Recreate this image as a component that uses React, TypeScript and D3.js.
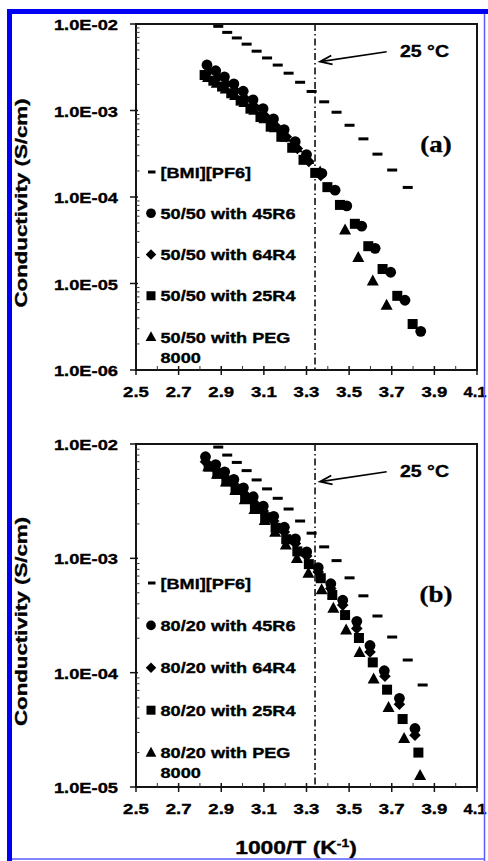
import React from "react";
import * as d3 from "d3";

type Pt = [number, number]; // [1000/T (1/K), conductivity (S/cm)]

// axis ticks
const xTicks = [2.5, 2.7, 2.9, 3.1, 3.3, 3.5, 3.7, 3.9, 4.1];
const xMinor = [2.6, 2.8, 3.0, 3.2, 3.4, 3.6, 3.8, 4.0];
const yTicksA = [1e-2, 1e-3, 1e-4, 1e-5, 1e-6];
const yTicksB = [1e-2, 1e-3, 1e-4, 1e-5];
const roomTemp = 3.34; // 25 °C marker line

// neat ionic liquid, shared by both panels (top panel shows the first 17)
const bmiPF6: Pt[] = [
  [2.886, 9.4e-3], [2.928, 8.0e-3], [2.973, 6.9e-3], [3.019, 5.85e-3], [3.066, 4.85e-3],
  [3.115, 4.05e-3], [3.165, 3.35e-3], [3.216, 2.7e-3], [3.27, 2.12e-3], [3.324, 1.66e-3],
  [3.383, 1.26e-3], [3.441, 9.55e-4], [3.502, 6.75e-4], [3.567, 4.7e-4], [3.633, 3.13e-4],
  [3.702, 2.05e-4], [3.775, 1.29e-4], [3.845, 7.8e-5],
];

// (a) 50/50 blends
const a45R6: Pt[] = [
  [2.833, 3.36e-3], [2.874, 2.88e-3], [2.915, 2.45e-3], [2.959, 2.03e-3], [3.003, 1.67e-3],
  [3.049, 1.33e-3], [3.096, 1.05e-3], [3.145, 8.0e-4], [3.195, 6.0e-4], [3.247, 4.36e-4],
  [3.3, 3.09e-4], [3.372, 1.88e-4], [3.434, 1.2e-4], [3.489, 7.9e-5], [3.559, 4.6e-5],
  [3.622, 2.55e-5], [3.695, 1.35e-5], [3.762, 6.4e-6], [3.836, 2.8e-6],
];
const a64R4: Pt[] = [
  [2.841, 2.82e-3], [2.882, 2.4e-3], [2.924, 2.03e-3], [2.967, 1.69e-3], [3.012, 1.37e-3],
  [3.058, 1.1e-3], [3.106, 8.6e-4], [3.155, 6.6e-4], [3.205, 4.97e-4], [3.257, 3.63e-4],
  [3.311, 2.57e-4], [3.367, 1.77e-4],
];
const a25R4: Pt[] = [
  [2.822, 2.57e-3], [2.863, 2.21e-3], [2.904, 1.89e-3], [2.947, 1.58e-3], [2.991, 1.3e-3],
  [3.037, 1.05e-3], [3.084, 8.4e-4], [3.132, 6.5e-4], [3.182, 4.97e-4], [3.233, 3.71e-4],
  [3.286, 2.69e-4], [3.341, 1.9e-4], [3.398, 1.3e-4], [3.457, 8.1e-5], [3.527, 4.9e-5],
  [3.59, 2.7e-5], [3.657, 1.47e-5], [3.726, 7.2e-6], [3.798, 3.4e-6],
];
const aPEG: Pt[] = [
  [2.838, 2.4e-3], [2.879, 2.07e-3], [2.921, 1.77e-3], [2.965, 1.49e-3], [3.009, 1.24e-3],
  [3.055, 1.01e-3], [3.103, 8.05e-4], [3.152, 6.3e-4], [3.202, 4.9e-4], [3.254, 3.7e-4],
  [3.308, 2.72e-4], [3.364, 1.95e-4], [3.481, 4.15e-5], [3.543, 2.0e-5], [3.611, 1.07e-5],
  [3.676, 5.6e-6],
];

// (b) 80/20 blends
const b45R6: Pt[] = [
  [2.826, 7.74e-3], [2.874, 6.61e-3], [2.916, 5.71e-3], [2.959, 4.9e-3], [3.004, 4.14e-3],
  [3.05, 3.46e-3], [3.097, 2.86e-3], [3.146, 2.33e-3], [3.196, 1.87e-3], [3.248, 1.48e-3],
  [3.301, 1.14e-3], [3.355, 8.3e-4], [3.414, 6.0e-4], [3.47, 4.3e-4], [3.536, 2.81e-4],
  [3.598, 1.73e-4], [3.665, 1.04e-4], [3.736, 5.96e-5], [3.809, 3.25e-5],
];
const b64R4: Pt[] = [
  [2.826, 7.0e-3], [2.874, 6.0e-3], [2.916, 5.2e-3], [2.959, 4.45e-3], [3.004, 3.75e-3],
  [3.05, 3.13e-3], [3.097, 2.6e-3], [3.146, 2.12e-3], [3.196, 1.7e-3], [3.248, 1.35e-3],
  [3.301, 1.05e-3], [3.355, 7.6e-4], [3.414, 5.45e-4], [3.47, 3.9e-4], [3.536, 2.44e-4],
  [3.598, 1.52e-4], [3.668, 9.3e-5], [3.736, 5.3e-5], [3.809, 2.84e-5],
];
const b25R4: Pt[] = [
  [2.841, 6.34e-3], [2.882, 5.5e-3], [2.924, 4.72e-3], [2.967, 4.02e-3], [3.012, 3.37e-3],
  [3.058, 2.8e-3], [3.106, 2.29e-3], [3.155, 1.85e-3], [3.205, 1.47e-3], [3.257, 1.15e-3],
  [3.311, 8.9e-4], [3.367, 6.7e-4], [3.421, 4.78e-4], [3.481, 3.19e-4], [3.546, 2.01e-4],
  [3.611, 1.23e-4], [3.678, 7.1e-5], [3.751, 3.93e-5], [3.825, 2.0e-5],
];
const bPEG: Pt[] = [
  [2.839, 6.31e-3], [2.88, 5.45e-3], [2.922, 4.66e-3], [2.966, 3.92e-3], [3.01, 3.26e-3],
  [3.056, 2.67e-3], [3.104, 2.14e-3], [3.153, 1.69e-3], [3.203, 1.31e-3], [3.255, 9.97e-4],
  [3.309, 7.4e-4], [3.371, 5.3e-4], [3.426, 3.66e-4], [3.486, 2.36e-4], [3.549, 1.5e-4],
  [3.615, 8.8e-5], [3.685, 4.95e-5], [3.758, 2.65e-5], [3.833, 1.26e-5],
];

const shapes = ["dash", "circle", "diamond", "square", "triangle"];
const legendA = ["[BMI][PF6]", "50/50 with 45R6", "50/50 with 64R4", "50/50 with 25R4", "50/50 with PEG"];
const legendB = ["[BMI][PF6]", "80/20 with 45R6", "80/20 with 64R4", "80/20 with 25R4", "80/20 with PEG"];

const SANS = "'Liberation Sans', Arial, sans-serif";
const SERIF = "'Liberation Serif', 'Times New Roman', serif";

const x = d3.scaleLinear().domain([2.5, 4.1]).range([136, 477]);

// 1e-3 -> "1.0E-03"
const fmtSci = (v: number) => {
  const [m, e] = v.toExponential(1).split("e");
  return `${m}E${e[0]}${e.slice(1).padStart(2, "0")}`;
};

function Marker({ shape, cx, cy, s = 1 }: { shape: string; cx: number; cy: number; s?: number }) {
  if (shape === "dash") return <rect x={cx - 5 * s} y={cy - 1.5} width={10 * s} height={3} />;
  if (shape === "circle") return <circle cx={cx} cy={cy} r={5.4 * s} />;
  if (shape === "square") return <rect x={cx - 5 * s} y={cy - 5 * s} width={10 * s} height={10 * s} />;
  if (shape === "diamond")
    return <path d={`M${cx},${cy - 5.8 * s}L${cx + 5.8 * s},${cy}L${cx},${cy + 5.8 * s}L${cx - 5.8 * s},${cy}Z`} />;
  return <path d={`M${cx},${cy - 6.5 * s}L${cx + 6 * s},${cy + 4.5 * s}L${cx - 6 * s},${cy + 4.5 * s}Z`} />;
}

// horizontally stretched bold text, the source figure's type is wide and heavy
function SText(props: { x: number; y: number; sx: number; size: number; anchor?: string; family?: string; children: React.ReactNode; rotate?: number }) {
  const { x: tx, y: ty, sx, size, anchor = "start", family = SANS, rotate = 0 } = props;
  return (
    <text
      transform={`translate(${tx},${ty}) rotate(${rotate}) scale(${sx},1)`}
      textAnchor={anchor}
      fontFamily={family}
      fontWeight="bold"
      fontSize={size}
      fill="#000"
      stroke="#000"
      strokeWidth={0.35}
    >
      {props.children}
    </text>
  );
}

type PanelProps = {
  top: number;
  bottom: number;
  yDomain: [number, number];
  yTicks: number[];
  series: Pt[][];
  legend: string[];
  legendTop: number;
  legendStep: number;
  tag: string;
  tagY: number;
  annY: number;
};

function Panel(p: PanelProps) {
  const y = d3.scaleLog().domain(p.yDomain).range([p.bottom, p.top]);
  const [left, right] = x.range();

  // log minor ticks 2..9 in each decade
  const yMinor: number[] = [];
  p.yTicks.slice(1).forEach((d) => {
    for (let m = 2; m <= 9; m++) yMinor.push(d * m);
  });

  // arrow annotation pointing at the 25 °C line
  const tip: Pt = [x(roomTemp) + 5, p.annY + 10];
  const tail: Pt = [386.7, p.annY];
  const ang = Math.atan2(tail[1] - tip[1], tail[0] - tip[0]);
  const hl = 12, hw = 4.5;
  const hx = tip[0] + hl * Math.cos(ang), hy = tip[1] + hl * Math.sin(ang);
  const px = -Math.sin(ang) * hw, py = Math.cos(ang) * hw;

  const labelY = (p.top + p.bottom) / 2 + 6;

  return (
    <g>
      {/* y axis label */}
      <SText x={27} y={labelY} sx={1.35} size={16.5} anchor="middle" rotate={-90}>
        Conductivity (S/cm)
      </SText>

      {/* 25 °C line */}
      <line x1={x(roomTemp)} x2={x(roomTemp)} y1={p.top} y2={p.bottom} stroke="#000" strokeWidth={1.5} strokeDasharray="7,3,1.5,3" />

      {/* data */}
      {p.series.map((pts, si) => (
        <g key={si} fill="#000">
          {pts.map((d, i) => (
            <Marker key={i} shape={shapes[si]} cx={x(d[0])} cy={y(d[1])} />
          ))}
        </g>
      ))}

      {/* frame */}
      <rect x={left} y={p.top} width={right - left} height={p.bottom - p.top} fill="none" stroke="#151515" strokeWidth={2} />

      {/* y ticks */}
      {p.yTicks.map((t) => (
        <g key={t}>
          <line x1={left - 6} x2={left + 2} y1={y(t)} y2={y(t)} stroke="#151515" strokeWidth={1.5} />
          <SText x={118} y={y(t) + 6} sx={1.22} size={15} anchor="end">
            {fmtSci(t)}
          </SText>
        </g>
      ))}
      {yMinor.map((t) => (
        <line key={t} x1={left} x2={left + 3.5} y1={y(t)} y2={y(t)} stroke="#333" strokeWidth={1} />
      ))}

      {/* x ticks */}
      {xTicks.map((t, i) => {
        const last = i === xTicks.length - 1;
        return (
          <g key={t}>
            <line x1={x(t)} x2={x(t)} y1={p.bottom - 4} y2={p.bottom + 5} stroke="#151515" strokeWidth={1.5} />
            <SText x={last ? x(t) - 2 : x(t)} y={p.bottom + 27} sx={last ? 1.1 : 1.24} size={15} anchor="middle">
              {t.toFixed(1)}
            </SText>
          </g>
        );
      })}
      {xMinor.map((t) => (
        <line key={t} x1={x(t)} x2={x(t)} y1={p.bottom - 4} y2={p.bottom} stroke="#333" strokeWidth={1} />
      ))}

      {/* legend */}
      {p.legend.map((txt, i) => {
        const cy = p.legendTop + i * p.legendStep;
        return (
          <g key={txt}>
            <g fill="#000">
              {shapes[i] === "dash" ? (
                <rect x={148} y={cy - 1.5} width={7.5} height={3} />
              ) : (
                <Marker shape={shapes[i]} cx={151} cy={cy} s={0.9} />
              )}
            </g>
            <SText x={160.5} y={cy + 5.5} sx={1.17} size={15.5}>
              {txt}
            </SText>
          </g>
        );
      })}
      <SText x={160.5} y={p.legendTop + 4 * p.legendStep + 25.5} sx={1.17} size={15.5}>
        8000
      </SText>

      {/* annotation */}
      <line x1={tail[0]} y1={tail[1]} x2={tip[0] + 2} y2={tip[1] - 0.3} stroke="#000" strokeWidth={1.6} />
      <path
        d={`M${hx + px},${hy + py}L${tip[0]},${tip[1]}L${hx - px},${hy - py}`}
        fill="none"
        stroke="#000"
        strokeWidth={1.8}
      />
      <SText x={400} y={p.annY + 5.5} sx={1.22} size={16}>
        25 °C
      </SText>

      {/* panel tag */}
      <SText x={436} y={p.tagY} sx={1.12} size={24} anchor="middle" family={SERIF}>
        {p.tag}
      </SText>
    </g>
  );
}

export default function App() {
  return (
    <svg width={488} height={861} style={{ position: "absolute", left: 0, top: 0, background: "#fff" }}>
      <rect width={488} height={861} fill="#fff" />

      <Panel
        top={24}
        bottom={370}
        yDomain={[1e-6, 1e-2]}
        yTicks={yTicksA}
        series={[bmiPF6.slice(0, 17), a45R6, a64R4, a25R4, aPEG]}
        legend={legendA}
        legendTop={172}
        legendStep={41.25}
        tag="(a)"
        tagY={152}
        annY={51.7}
      />
      <Panel
        top={444}
        bottom={787}
        yDomain={[1e-5, 1e-2]}
        yTicks={yTicksB}
        series={[bmiPF6, b45R6, b64R4, b25R4, bPEG]}
        legend={legendB}
        legendTop={583}
        legendStep={42.4}
        tag="(b)"
        tagY={602}
        annY={471.7}
      />

      {/* x axis title */}
      <text
        transform="translate(296,854) scale(1.27,1)"
        textAnchor="middle"
        fontFamily={SANS}
        fontWeight="bold"
        fontSize={18}
        stroke="#000"
        strokeWidth={0.35}
      >
        1000/T (K
        <tspan fontSize={11} dy={-7}>
          -1
        </tspan>
        <tspan dy={7}>)</tspan>
      </text>

      {/* blue page frame */}
      <rect x={7} y={9} width={5} height={852} fill="#0000f5" />
      <rect x={7} y={9} width={481} height={5} fill="#0000f5" />
      <line x1={484.5} x2={484.5} y1={14} y2={861} stroke="#5b5bff" strokeWidth={1.5} />
      <line x1={12} x2={485} y1={859} y2={859} stroke="#5b5bff" strokeWidth={1.5} />
    </svg>
  );
}
